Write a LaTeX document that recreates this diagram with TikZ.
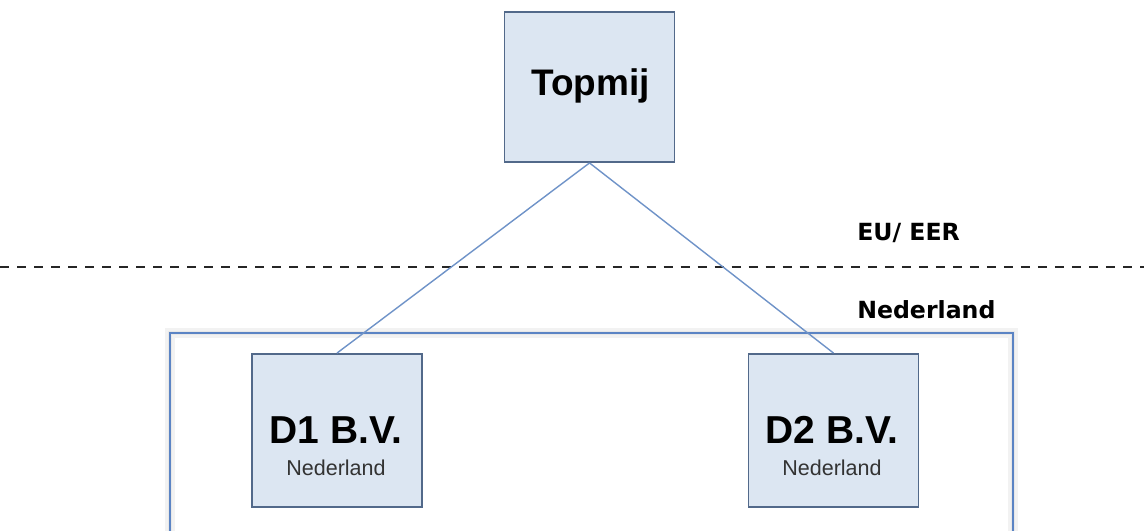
\documentclass[tikz,border=0pt]{standalone}
\usepackage{fontspec}
\setmainfont{Liberation Sans}
\newfontfamily\regionfont{DejaVu Sans}
\usepackage{xcolor}
\definecolor{boxfill}{HTML}{DCE6F2}
\definecolor{boxline}{HTML}{52698A}
\definecolor{linkblue}{HTML}{6F93C8}
\definecolor{frameblue}{HTML}{5B84C4}
\tikzset{
    entity/.style = {rectangle, draw=boxline, line width=1.3pt, fill=boxfill, minimum width=4.25cm, minimum height=3.825cm, inner sep=0pt},
    link/.style = {linkblue, line width=1pt},
    frame/.style = {frameblue, line width=1.3pt},
    glow/.style = {black!5, line width=7pt},
    border/.style = {black!85, line width=1.3pt, dash pattern=on 6.4pt off 5.7pt},
    region/.style = {anchor=base west, inner sep=0pt, font=\regionfont\bfseries\fontsize{16.8}{19}\selectfont},
    firm/.style = {anchor=base, inner sep=0pt, font=\bfseries\fontsize{27.7}{30}\selectfont},
    country/.style = {anchor=base, inner sep=0pt, text=black!80, font=\fontsize{15.3}{17}\selectfont}
}

\begin{document}
\begin{tikzpicture}[x=0.025cm, y=-0.025cm]
  \useasboundingbox (0,0) rectangle (1144,531);

  % region border and labels
  \coordinate (bl) at (0,267);
  \coordinate (br) at (1144,267);
  \draw[border] (bl) -- (br);
  \node[region] (eu) at (857,240) {EU/ EER};
  \node[region] (nl) at (857,318) {Nederland};

  % Dutch frame, open at the bottom
  \draw[glow] (170,531) |- (1013,333) -- (1013,531);
  \draw[black!9, line width=3.5pt] (170,531) |- (1013,333) -- (1013,531);
  \draw[frame] (170,531) |- (1013,333) -- (1013,531);

  % entities
  \node[entity, minimum height=3.75cm] (top) at (589.5,87) {};
  \node[firm, font=\bfseries\fontsize{26.3}{28}\selectfont] (toplbl) at (590.5,96) {Topmij};

  \node[entity] (d1) at (337,430.5) {};
  \node[firm] (d1lbl) at (336,443) {D1 B.V.};
  \node[country] (d1cty) at (336,475) {Nederland};

  \node[entity] (d2) at (833.5,430.5) {};
  \node[firm] (d2lbl) at (832,443) {D2 B.V.};
  \node[country] (d2cty) at (832,475) {Nederland};

  \draw[link] (top.south) -- (d1.north);
  \draw[link] (top.south) -- (d2.north);
\end{tikzpicture}
\end{document}
